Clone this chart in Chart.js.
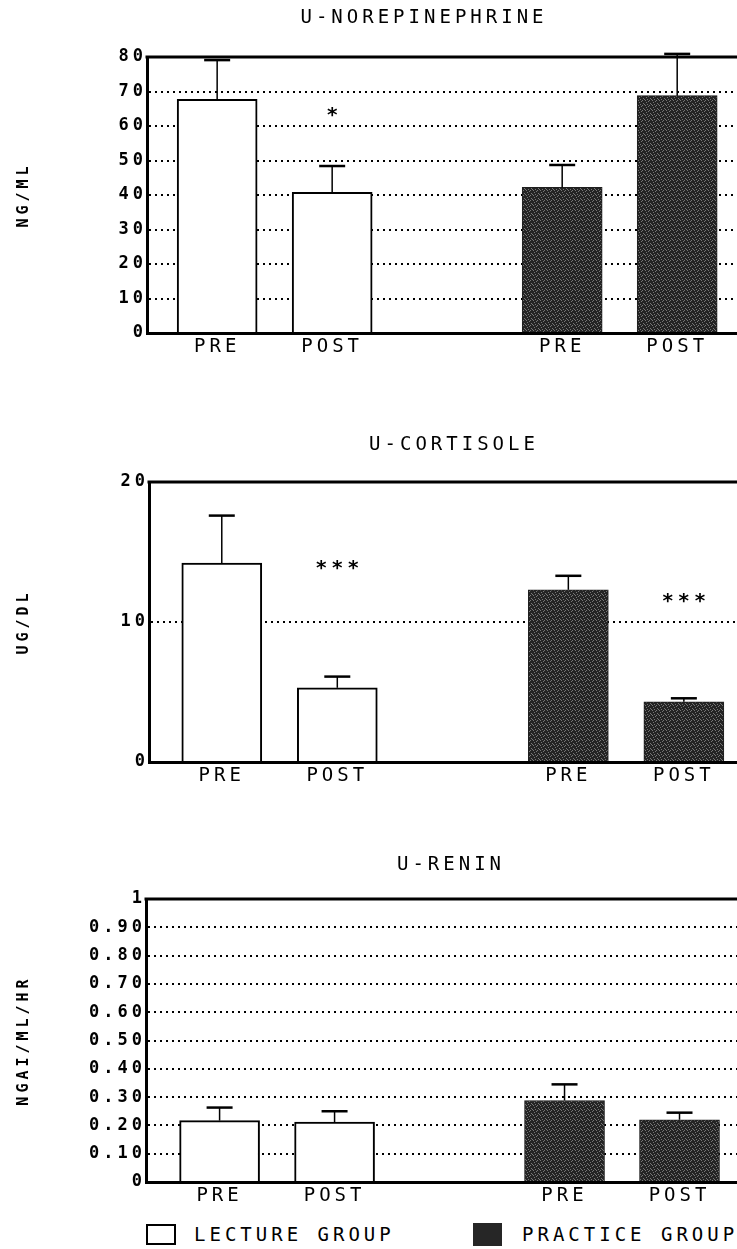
<!DOCTYPE html>
<html>
<head>
<meta charset="utf-8">
<script src="https://cdn.jsdelivr.net/npm/chart.js@4.4.0/dist/chart.umd.min.js"></script>
<style>
  html, body { margin: 0; padding: 0; background: #fff; }
  body { width: 737px; height: 1249px; position: relative; overflow: hidden; font-family: 'DejaVu Sans Mono', monospace; color: #000; }
  canvas { position: absolute; left: 0; }
  .box { position: absolute; box-sizing: border-box; }
  .lbl { position: absolute; font-size: 19px; letter-spacing: 4px; line-height: 22px; white-space: nowrap; }
</style>
</head>
<body>
<canvas id="norepi" width="737" height="400" style="top:0px"></canvas>
<canvas id="cortisol" width="737" height="400" style="top:420px"></canvas>
<canvas id="renin" width="737" height="380" style="top:840px"></canvas>

<div class="box" style="left:146px; top:1224px; width:30px; height:21px; border:2px solid #000; background:#fff;"></div>
<div class="lbl" style="left:194px; top:1223px;">LECTURE GROUP</div>
<div class="box" style="left:473px; top:1223px; width:29px; height:23px; background:#262626;"></div>
<div class="lbl" style="left:522px; top:1223px;">PRACTICE GROUP</div>

<script>
// categories and slots on the x axis (gap slot between the two groups)
const categories = ["PRE", "POST"];
const lectureSlots = [1, 2];
const practiceSlots = [4, 5];
const xTickLabels = ["PRE", "POST", "", "PRE", "POST"];

// U-NOREPINEPHRINE (NG/ML)
const norepiLecture = [67.7, 40.8];
const norepiLectureErr = [11.4, 7.6];
const norepiPractice = [42.2, 68.8];
const norepiPracticeErr = [6.5, 12.1];
const norepiTicks = ["0", "10", "20", "30", "40", "50", "60", "70", "80"];

// U-CORTISOLE (UG/DL)
const cortLecture = [14.2, 5.3];
const cortLectureErr = [3.4, 0.8];
const cortPractice = [12.3, 4.3];
const cortPracticeErr = [1.0, 0.25];
const cortTicks = ["0", "10", "20"];

// U-RENIN (NGAI/ML/HR)
const reninLecture = [0.217, 0.212];
const reninLectureErr = [0.046, 0.038];
const reninPractice = [0.288, 0.220];
const reninPracticeErr = [0.057, 0.025];
const reninTicks = ["0", "0.10", "0.20", "0.30", "0.40", "0.50", "0.60", "0.70", "0.80", "0.90", "1"];

const FONT = "'DejaVu Sans Mono', monospace";

// dark speckled fill for the practice bars
function speckle() {
    const c = document.createElement("canvas");
    c.width = 7;
    c.height = 5;
    const g = c.getContext("2d");
    g.fillStyle = "#242424";
    g.fillRect(0, 0, 7, 5);
    g.fillStyle = "#767676";
    [[1, 0], [5, 0], [4, 1], [2, 2], [6, 3], [0, 4], [3, 4]].forEach(p => g.fillRect(p[0], p[1], 1, 1));
    return g.createPattern(c, "repeat");
}
const practiceFill = speckle();

const dotMatrix = {
    id: "dotMatrix",
    beforeDraw(chart) {
        chart.ctx.letterSpacing = "4px";
    },
    afterDatasetsDraw(chart) {
        const ctx = chart.ctx;
        const y = chart.scales.y;
        // error whiskers (upper only)
        chart.data.datasets.forEach((ds, di) => {
            const meta = chart.getDatasetMeta(di);
            meta.data.forEach((bar, i) => {
                const top = y.getPixelForValue(ds.data[i].y + ds.errors[i]);
                ctx.save();
                ctx.strokeStyle = "#000";
                ctx.lineWidth = 1.5;
                ctx.beginPath();
                ctx.moveTo(bar.x, bar.y);
                ctx.lineTo(bar.x, top);
                ctx.stroke();
                ctx.lineWidth = 2.5;
                ctx.beginPath();
                ctx.moveTo(bar.x - 13, top);
                ctx.lineTo(bar.x + 13, top);
                ctx.stroke();
                ctx.restore();
            });
        });
        // significance marks
        const marks = chart.options.plugins.dotMatrix.marks || [];
        marks.forEach(m => {
            const bar = chart.getDatasetMeta(m.ds).data[m.idx];
            ctx.save();
            ctx.fillStyle = "#000";
            ctx.font = "bold 20px " + FONT;
            ctx.textAlign = "center";
            ctx.textBaseline = "middle";
            ctx.fillText(m.text, bar.x + 2, y.getPixelForValue(m.y) + 4);
            ctx.restore();
        });
    },
    afterDraw(chart) {
        const ctx = chart.ctx;
        const a = chart.chartArea;
        const opts = chart.options.plugins.dotMatrix;
        ctx.save();
        // heavy top frame
        ctx.strokeStyle = "#000";
        ctx.lineWidth = 3;
        ctx.beginPath();
        ctx.moveTo(a.left - 1.5, a.top);
        ctx.lineTo(a.right, a.top);
        ctx.stroke();
        // panel title
        ctx.fillStyle = "#000";
        ctx.font = "19px " + FONT;
        ctx.textAlign = "center";
        ctx.textBaseline = "middle";
        ctx.fillText(opts.title, opts.titleX + 2, opts.titleY);
        ctx.restore();
    }
};

function makePanel(id, p) {
    const toPoints = (slots, vals) => vals.map((v, i) => ({ x: slots[i], y: v }));

    return new Chart(document.getElementById(id), {
        type: "bar",
        data: {
            datasets: [{
                label: "LECTURE GROUP",
                data: toPoints(lectureSlots, p.lecture),
                errors: p.lectureErr,
                backgroundColor: "#fff",
                borderColor: "#000",
                borderWidth: 2,
                barThickness: 80,
                grouped: false
            }, {
                label: "PRACTICE GROUP",
                data: toPoints(practiceSlots, p.practice),
                errors: p.practiceErr,
                backgroundColor: practiceFill,
                borderColor: "#1e1e1e",
                borderWidth: 1,
                barThickness: 80,
                grouped: false
            }]
        },
        plugins: [dotMatrix],
        options: {
            responsive: false,
            animation: false,
            events: [],
            layout: {
                padding: { top: p.padTop, bottom: p.padBottom, left: 0, right: 0 }
            },
            plugins: {
                legend: { display: false },
                tooltip: { enabled: false },
                dotMatrix: {
                    title: p.title,
                    titleX: p.titleX,
                    titleY: p.titleY,
                    marks: p.marks
                }
            },
            scales: {
                x: {
                    type: "linear",
                    min: p.xMin,
                    max: p.xMax,
                    offset: false,
                    afterBuildTicks(scale) {
                        scale.ticks = lectureSlots.concat(practiceSlots).map(v => ({ value: v }));
                    },
                    afterFit(scale) {
                        scale.height = 25;
                    },
                    grid: { display: false, drawTicks: false },
                    border: { display: true, color: "#000", width: 3 },
                    ticks: {
                        color: "#000",
                        padding: 3,
                        maxRotation: 0,
                        autoSkip: false,
                        font: { family: FONT, size: 19 },
                        callback: v => xTickLabels[Math.round(v) - 1]
                    }
                },
                y: {
                    min: 0,
                    max: p.yMax,
                    afterBuildTicks(scale) {
                        scale.ticks = p.tickLabels.map((t, i) => ({ value: i * p.step }));
                    },
                    afterFit(scale) {
                        scale.width = p.axisX;
                    },
                    grid: {
                        drawTicks: false,
                        lineWidth: 2,
                        color: p.gridColor || "#000"
                    },
                    border: { display: true, color: "#000", width: 3, dash: [2, 4] },
                    ticks: {
                        color: "#000",
                        padding: 0,
                        autoSkip: false,
                        font: { family: FONT, size: 17, weight: "bold" },
                        callback: (v, i) => p.tickLabels[i]
                    },
                    title: {
                        display: true,
                        text: p.unit,
                        color: "#000",
                        font: { family: FONT, size: 15, weight: "bold" },
                        padding: { top: 15, bottom: 0 }
                    }
                }
            }
        }
    });
}

makePanel("norepi", {
    title: "U-NOREPINEPHRINE", titleX: 422, titleY: 18,
    unit: "NG/ML",
    lecture: norepiLecture, lectureErr: norepiLectureErr,
    practice: norepiPractice, practiceErr: norepiPracticeErr,
    tickLabels: norepiTicks, step: 10, yMax: 80,
    axisX: 147, xMin: 0.39, xMax: 5.52, padTop: 57, padBottom: 42,
    marks: [{ ds: 0, idx: 1, y: 64, text: "*" }]
});

makePanel("cortisol", {
    title: "U-CORTISOLE", titleX: 452, titleY: 25,
    unit: "UG/DL",
    lecture: cortLecture, lectureErr: cortLectureErr,
    practice: cortPractice, practiceErr: cortPracticeErr,
    tickLabels: cortTicks, step: 10, yMax: 20,
    gridColor: c => (c.tick && c.tick.value === 10 ? "#000" : "rgba(0,0,0,0)"),
    axisX: 149, xMin: 0.37, xMax: 5.46, padTop: 62, padBottom: 33,
    marks: [{ ds: 0, idx: 1, y: 14.1, text: "***" }, { ds: 1, idx: 1, y: 11.7, text: "***" }]
});

makePanel("renin", {
    title: "U-RENIN", titleX: 449, titleY: 25,
    unit: "NGAI/ML/HR",
    lecture: reninLecture, lectureErr: reninLectureErr,
    practice: reninPractice, practiceErr: reninPracticeErr,
    tickLabels: reninTicks, step: 0.1, yMax: 1,
    axisX: 146, xMin: 0.36, xMax: 5.50, padTop: 59, padBottom: 13,
    marks: []
});
</script>
</body>
</html>
